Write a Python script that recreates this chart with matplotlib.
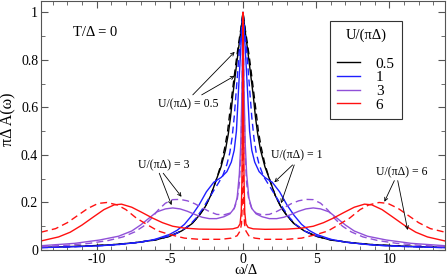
import numpy as np
import matplotlib
matplotlib.use("Agg")
import matplotlib.pyplot as plt
from matplotlib.ticker import MultipleLocator, FuncFormatter

plt.rcParams['font.family'] = ['Liberation Serif', 'DejaVu Serif']
plt.rcParams['axes.unicode_minus'] = False

# spectra are symmetric in omega, values read for omega >= 0
w_k05 = [0, 0.15, 0.3, 0.5, 0.7, 0.85, 1.0, 1.2, 1.5, 1.8, 2.2, 2.6, 3.0, 3.5, 4.2, 5.0, 6.0, 7.5, 9.0, 11.0, 13.8]
a_k05 = [1.0, 0.92, 0.85, 0.75, 0.65, 0.56, 0.49, 0.42, 0.35, 0.30, 0.23, 0.18, 0.145, 0.11, 0.08, 0.058, 0.042, 0.03, 0.022, 0.016, 0.011]
w_k05d = [0, 0.15, 0.3, 0.5, 0.7, 0.9, 1.05, 1.25, 1.5, 1.8, 2.2, 2.6, 3.0, 3.5, 4.2, 5.0, 6.0, 7.5, 9.0, 11.0, 13.8]
a_k05d = [1.0, 0.93, 0.87, 0.78, 0.68, 0.58, 0.50, 0.43, 0.36, 0.30, 0.23, 0.18, 0.145, 0.11, 0.08, 0.058, 0.042, 0.03, 0.022, 0.016, 0.011]

w_k1 = [0, 0.08, 0.16, 0.3, 0.45, 0.6, 0.8, 1.1, 1.5, 2.0, 2.5, 3.0, 3.5, 4.0, 4.5, 5.0, 6.0, 7.0, 8.5, 10.0, 12.0, 13.8]
a_k1 = [1.0, 0.92, 0.84, 0.68, 0.50, 0.42, 0.37, 0.33, 0.305, 0.285, 0.245, 0.19, 0.145, 0.108, 0.083, 0.066, 0.045, 0.033, 0.023, 0.017, 0.013, 0.01]
w_k1d = [0, 0.1, 0.25, 0.45, 0.6, 0.75, 0.9, 1.1, 1.4, 1.7, 2.0, 2.4, 2.8, 3.2, 3.6, 4.2, 4.8, 6.0, 7.0, 8.5, 10.0, 12.0, 13.8]
a_k1d = [1.0, 0.93, 0.84, 0.68, 0.56, 0.47, 0.41, 0.36, 0.31, 0.28, 0.25, 0.21, 0.17, 0.135, 0.108, 0.08, 0.063, 0.044, 0.033, 0.023, 0.017, 0.013, 0.01]

w_k3 = [0, 0.08, 0.15, 0.25, 0.4, 0.6, 0.9, 1.3, 1.8, 2.3, 2.8, 3.3, 3.8, 4.3, 4.8, 5.3, 5.9, 6.4, 7.0, 7.6, 8.5, 9.8, 11.5, 13.8]
a_k3 = [1.0, 0.65, 0.45, 0.32, 0.22, 0.175, 0.152, 0.14, 0.132, 0.132, 0.138, 0.15, 0.163, 0.173, 0.177, 0.173, 0.16, 0.135, 0.105, 0.08, 0.058, 0.042, 0.028, 0.018]
w_k3d = [0, 0.08, 0.15, 0.25, 0.4, 0.6, 0.9, 1.3, 1.8, 2.3, 2.8, 3.3, 3.8, 4.3, 4.8, 5.3, 5.8, 6.3, 6.8, 7.4, 8.2, 9.2, 10.5, 12.0, 13.8]
a_k3d = [1.0, 0.6, 0.4, 0.28, 0.21, 0.175, 0.155, 0.148, 0.15, 0.162, 0.178, 0.195, 0.207, 0.213, 0.212, 0.197, 0.168, 0.13, 0.10, 0.076, 0.055, 0.04, 0.028, 0.02, 0.014]

w_k6 = [0, 0.03, 0.07, 0.12, 0.2, 0.35, 0.7, 1.5, 3.0, 4.0, 4.8, 5.5, 6.2, 6.9, 7.6, 8.3, 8.8, 9.5, 10.2, 11.0, 11.8, 12.6, 13.8]
a_k6 = [1.0, 0.6, 0.3, 0.16, 0.11, 0.095, 0.089, 0.087, 0.088, 0.092, 0.10, 0.115, 0.135, 0.158, 0.18, 0.193, 0.19, 0.17, 0.14, 0.105, 0.075, 0.055, 0.038]
w_k6d = [0, 0.02, 0.05, 0.1, 0.2, 0.4, 0.8, 1.5, 3.0, 4.0, 5.0, 5.8, 6.5, 7.3, 8.0, 8.6, 9.3, 9.9, 10.6, 11.3, 12.0, 12.8, 13.8]
a_k6d = [1.0, 0.5, 0.2, 0.11, 0.08, 0.06, 0.05, 0.045, 0.045, 0.05, 0.065, 0.08, 0.105, 0.135, 0.17, 0.19, 0.20, 0.196, 0.175, 0.145, 0.115, 0.09, 0.075]

u_labels = ['0.5', '1', '3', '6']
colors = ['black', '#1f1fff', '#9050d8', '#ff1010']


def mirror(w, a):
    w = np.asarray(w)
    a = np.asarray(a)
    return np.concatenate([-w[::-1], w[1:]]), np.concatenate([a[::-1], a[1:]])


fig = plt.figure(figsize=(4.47, 2.80), dpi=100)
ax = fig.add_axes([41 / 447, 30 / 280, 404 / 447, 249 / 280])

solid = [(w_k05, a_k05), (w_k1, a_k1), (w_k3, a_k3), (w_k6, a_k6)]
dashed = [(w_k05d, a_k05d), (w_k1d, a_k1d), (w_k3d, a_k3d), (w_k6d, a_k6d)]

handles = []
for (w, a), (wd, ad), c, lab in zip(solid, dashed, colors, u_labels):
    x, y = mirror(w, a)
    h, = ax.plot(x, y, color=c, lw=1.0, label=lab)
    handles.append(h)
    xd, yd = mirror(wd, ad)
    ax.plot(xd, yd, color=c, lw=1.0, ls=(0, (5, 3)))

ax.set_xlim(-13.8, 13.8)
ax.set_ylim(0, 1.048)
ax.xaxis.set_major_locator(MultipleLocator(5))
ax.xaxis.set_minor_locator(MultipleLocator(1))
ax.yaxis.set_major_locator(MultipleLocator(0.2))
ax.yaxis.set_minor_locator(MultipleLocator(0.1))
ax.yaxis.set_major_formatter(FuncFormatter(lambda v, p: '%g' % round(v, 2)))
ax.tick_params(which='both', direction='in', top=True, right=True, labelsize=10,
               color='#555555', pad=2)
ax.tick_params(which='major', length=5)
ax.tick_params(which='minor', length=3)
for s in ax.spines.values():
    s.set_color('#555555')

ax.set_xlabel('ω/Δ', fontsize=10.5)
ax.xaxis.set_label_coords(0.507, -0.058)
ax.set_ylabel('πΔ A(ω)', fontsize=11.5)
ax.yaxis.set_label_coords(-0.06, 0.526)

ax.text(-11.6, 0.914, 'T/Δ = 0', fontsize=10.5, va='center', ha='left')

arr = dict(arrowstyle='->', lw=0.6, color='black', shrinkA=0, shrinkB=0, mutation_scale=6)
fs_note = 8.5
# U = 0.5
ax.text(-3.77, 0.615, 'U/(πΔ) = 0.5', fontsize=fs_note, ha='center', va='center')
ax.annotate('', xy=(-0.57, 0.834), xytext=(-3.43, 0.653), arrowprops=arr)
ax.annotate('', xy=(-0.57, 0.733), xytext=(-2.82, 0.653), arrowprops=arr)
# U = 3
ax.text(-5.4, 0.358, 'U/(πΔ) = 3', fontsize=fs_note, ha='center', va='center')
ax.annotate('', xy=(-4.88, 0.189), xytext=(-5.72, 0.323), arrowprops=arr)
ax.annotate('', xy=(-4.2, 0.224), xytext=(-5.45, 0.323), arrowprops=arr)
# U = 1
ax.text(3.7, 0.40, 'U/(πΔ) = 1', fontsize=fs_note, ha='center', va='center')
ax.annotate('', xy=(2.14, 0.285), xytext=(3.39, 0.358), arrowprops=arr)
ax.annotate('', xy=(2.6, 0.197), xytext=(3.5, 0.358), arrowprops=arr)
# U = 6
ax.text(10.85, 0.325, 'U/(πΔ) = 6', fontsize=fs_note, ha='center', va='center')
ax.annotate('', xy=(9.66, 0.203), xytext=(10.34, 0.292), arrowprops=arr)
ax.annotate('', xy=(11.25, 0.084), xytext=(10.57, 0.292), arrowprops=arr)

leg = ax.legend(handles, u_labels, title='U/(πΔ)\n', loc='upper left',
                bbox_to_anchor=(0.715, 0.92), borderaxespad=0,
                fontsize=11, title_fontsize=10.5,
                fancybox=False, edgecolor='#333333', framealpha=1,
                handlelength=1.5, handletextpad=1.0, labelspacing=0.0,
                borderpad=0.5, alignment='center')
leg.get_frame().set_linewidth(0.8)

fig.savefig('out.png', dpi=100)
